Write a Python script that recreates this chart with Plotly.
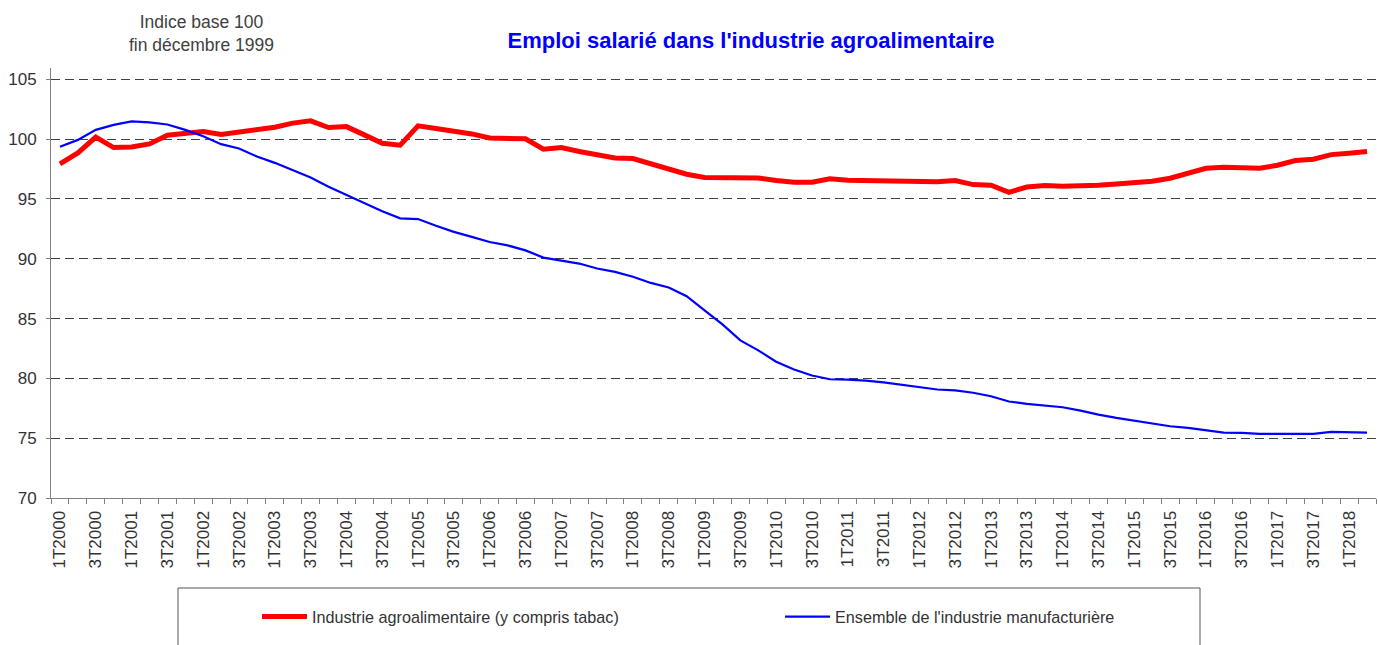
import plotly.graph_objects as go

quarters = [
    "1T2000", "2T2000", "3T2000", "4T2000", "1T2001", "2T2001", "3T2001", "4T2001",
    "1T2002", "2T2002", "3T2002", "4T2002", "1T2003", "2T2003", "3T2003", "4T2003",
    "1T2004", "2T2004", "3T2004", "4T2004", "1T2005", "2T2005", "3T2005", "4T2005",
    "1T2006", "2T2006", "3T2006", "4T2006", "1T2007", "2T2007", "3T2007", "4T2007",
    "1T2008", "2T2008", "3T2008", "4T2008", "1T2009", "2T2009", "3T2009", "4T2009",
    "1T2010", "2T2010", "3T2010", "4T2010", "1T2011", "2T2011", "3T2011", "4T2011",
    "1T2012", "2T2012", "3T2012", "4T2012", "1T2013", "2T2013", "3T2013", "4T2013",
    "1T2014", "2T2014", "3T2014", "4T2014", "1T2015", "2T2015", "3T2015", "4T2015",
    "1T2016", "2T2016", "3T2016", "4T2016", "1T2017", "2T2017", "3T2017", "4T2017",
    "1T2018", "2T2018",
]

agro = [
    97.93, 98.85, 100.17, 99.30, 99.35, 99.60, 100.33, 100.44,
    100.64, 100.39, 100.56, 100.75, 101.00, 101.34, 101.53, 100.97,
    101.05, 100.36, 99.66, 99.50, 101.11, 100.89, 100.70, 100.44,
    100.10, 100.05, 100.03, 99.16, 99.30, 98.97, 98.69, 98.43,
    98.38, 97.93, 97.46, 97.07, 96.79, 96.79, 96.79, 96.76,
    96.54, 96.40, 96.40, 96.68, 96.57, 96.54, 96.54, 96.54,
    96.54, 96.45, 96.54, 96.20, 96.15, 95.56, 96.00, 96.12,
    96.06, 96.09, 96.15, 96.26, 96.40, 96.48, 96.73, 97.12,
    97.57, 97.65, 97.57, 97.57, 97.82, 98.21, 98.32, 98.71,
    98.83, 98.97,
]

manuf = [
    99.36, 99.94, 100.78, 101.20, 101.48, 101.40, 101.23, 100.78,
    100.25, 99.58, 99.22, 98.55, 98.02, 97.43, 96.79, 96.03,
    95.36, 94.66, 93.97, 93.38, 93.32, 92.76, 92.25, 91.83,
    91.40, 91.12, 90.70, 90.10, 89.88, 89.60, 89.19, 88.90,
    88.50, 87.98, 87.60, 86.87, 85.69, 84.52, 83.18, 82.34,
    81.39, 80.75, 80.24, 79.93, 79.90, 79.82, 79.67, 79.46,
    79.26, 79.07, 78.99, 78.80, 78.51, 78.07, 77.87, 77.73,
    77.59, 77.31, 76.97, 76.70, 76.47, 76.25, 76.00, 75.86,
    75.69, 75.47, 75.44, 75.36, 75.36, 75.33, 75.36, 75.53,
    75.53, 75.47,
]

y_ticks = [70, 75, 80, 85, 90, 95, 100, 105]

FONT = "Liberation Sans, Arial, sans-serif"
W, H = 1378, 645
L, R, T, B = 51, 2, 68, 147
PW = W - L - R
PH = H - T - B

xs = list(range(len(quarters)))
tick_idx = xs[::2]
tick_txt = quarters[::2]

fig = go.Figure()
fig.add_trace(go.Scatter(
    x=xs, y=agro, mode="lines",
    name="Industrie agroalimentaire (y compris tabac)",
    line=dict(color="#FF0000", width=5),
))
fig.add_trace(go.Scatter(
    x=xs, y=manuf, mode="lines",
    name="Ensemble de l'industrie manufacturière",
    line=dict(color="#0000FF", width=2.2),
))

def px_x(p):
    return (p - L) / PW

def px_y(p):
    return (H - B - p) / PH

fig.update_layout(
    width=W, height=H,
    margin=dict(l=L, r=R, t=T, b=B, autoexpand=False),
    paper_bgcolor="white", plot_bgcolor="white",
    font=dict(family=FONT, color="#333333"),
    title=dict(
        text="<b>Emploi salarié dans l'industrie agroalimentaire</b>",
        font=dict(family=FONT, size=22, color="#0000FF"),
        xref="container", x=751 / W, xanchor="center",
        yref="container", y=1 - 40 / H, yanchor="middle",
    ),
    xaxis=dict(
        range=[-0.5, len(quarters) - 0.5],
        tickmode="array", tickvals=tick_idx, ticktext=tick_txt,
        tickangle=-90, tickfont=dict(family=FONT, size=17, color="#333333"),
        ticks="outside", ticklen=5, tickcolor="rgba(0,0,0,0)",
        showgrid=False, zeroline=False,
        showline=True, linecolor="#808080", linewidth=1,
        minor=dict(tickmode="linear", tick0=-0.5, dtick=1, ticks="outside",
                   ticklen=5, tickcolor="#808080", tickwidth=1, showgrid=False),
    ),
    yaxis=dict(
        range=[70, 105.95], tickmode="array", tickvals=y_ticks,
        tickfont=dict(family=FONT, size=17, color="#333333"),
        ticks="outside", ticklen=4, tickcolor="#808080",
        ticklabelstandoff=6,
        showgrid=True, gridcolor="#404040", gridwidth=1, griddash="9px,5px",
        zeroline=False, showline=True, linecolor="#808080", linewidth=1,
    ),
    showlegend=True,
    legend=dict(
        orientation="h",
        x=px_x(257), xanchor="left",
        y=px_y(617), yanchor="middle",
        font=dict(family=FONT, size=16.2, color="#333333"),
        itemwidth=45,
        entrywidth=463, entrywidthmode="pixels",
        bgcolor="rgba(0,0,0,0)", borderwidth=0,
        itemclick=False,
    ),
    shapes=[dict(
        type="rect", xref="paper", yref="paper",
        x0=px_x(178), x1=px_x(1200), y0=px_y(660), y1=px_y(588),
        line=dict(color="#555555", width=1), fillcolor="rgba(0,0,0,0)",
        layer="below",
    )],
    annotations=[dict(
        text="Indice base 100<br>fin décembre 1999",
        xref="paper", yref="paper",
        x=px_x(201), y=px_y(33), xanchor="center", yanchor="middle",
        showarrow=False, align="center",
        font=dict(family=FONT, size=17.5, color="#404040"),
    )],
)

fig.write_html(
    "out.html",
    config={"displayModeBar": False},
    post_script="document.body.style.margin='0';document.body.style.overflow='hidden';",
)
